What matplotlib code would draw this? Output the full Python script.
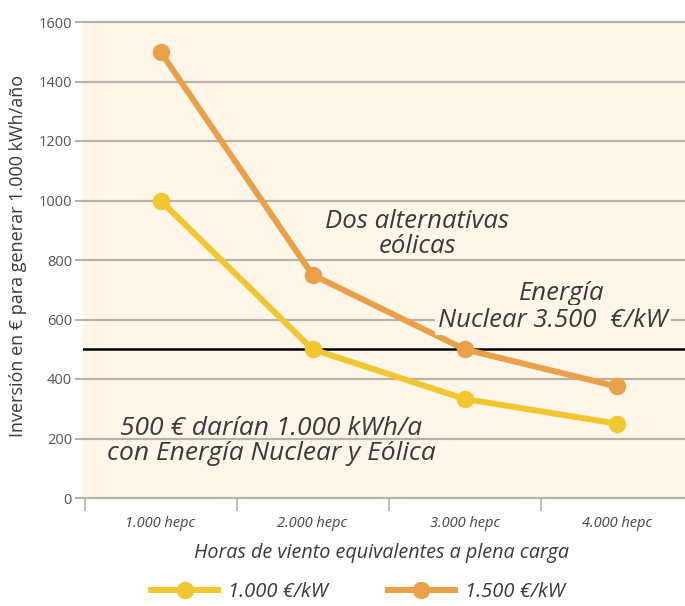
import matplotlib
matplotlib.use("Agg")
import matplotlib.pyplot as plt
from matplotlib.lines import Line2D

categories = ["1.000 hepc", "2.000 hepc", "3.000 hepc", "4.000 hepc"]
serie_1000 = [1000, 500, 333, 250]
serie_1500 = [1500, 750, 500, 375]
nuclear = 500
yticks = [0, 200, 400, 600, 800, 1000, 1200, 1400, 1600]

plt.rcParams['font.family'] = ['Open Sans', 'DejaVu Sans']

BG = '#FDF6E9'
GRID = '#B5B2AC'
YEL = '#F2C62E'
ORA = '#E9A048'
TXT = '#3a3a3a'

fig = plt.figure(figsize=(6.85, 6.06), dpi=100)
ax = fig.add_axes([83/685, 1 - 498/606, 1 - 83/685, (498 - 22)/606])
ax.set_facecolor(BG)

x = list(range(1, len(categories) + 1))
ax.set_xlim(0.49, 4.45)
ax.set_ylim(0, 1600)

for y in yticks:
    ax.axhline(y, color=GRID, lw=1.6, zorder=1, clip_on=False)

ax.axhline(nuclear, color='black', lw=1.8, zorder=2)

ax.plot(x, serie_1000, color=YEL, lw=4.3, marker='o', ms=11.5, zorder=4,
        solid_capstyle='round')
ax.plot(x, serie_1500, color=ORA, lw=4.3, marker='o', ms=11.5, zorder=4,
        solid_capstyle='round')

for s in ax.spines.values():
    s.set_visible(False)

ax.set_yticks(yticks)
ax.set_yticklabels([str(v) for v in yticks], fontsize=10.5, color='#555555')
ax.tick_params(axis='y', length=6, width=1.4, color=GRID, pad=2)

ax.set_xticks([0.5, 1.5, 2.5, 3.5])
ax.set_xticklabels([])
ax.tick_params(axis='x', length=9, width=1.2, color=GRID, direction='out')
for xi, lab in zip(x, categories):
    ax.text(xi, -60, lab, ha='center', va='top', fontsize=10.5, style='italic',
            color='#444444', clip_on=False)

fig.text(18/685, 1 - 256/606, 'Inversión en € para generar 1.000 kWh/año',
         rotation=90, ha='center', va='center', fontsize=13, color=TXT)
fig.text(382/685, 1 - 553/606, 'Horas de viento equivalentes a plena carga',
         ha='center', va='center', fontsize=14.2, style='italic', color=TXT)

ax.text(1.73, 192, '500 € darían 1.000 kWh/a\ncon Energía Nuclear y Eólica',
        ha='center', va='center', fontsize=19, style='italic', color=TXT,
        linespacing=1.0, zorder=5)
ax.text(2.69, 889, 'Dos alternativas\neólicas', ha='center', va='center',
        fontsize=18.5, style='italic', color=TXT, linespacing=1.0, zorder=5)
ax.text(3.64, 689, 'Energía', ha='center', va='center',
        fontsize=18.5, style='italic', color=TXT, zorder=5)
ax.text(2.826, 598, 'Nuclear 3.500  €/kW', ha='left', va='center',
        fontsize=18.5, style='italic', color=TXT, zorder=5, clip_on=False,
        bbox=dict(facecolor=BG, edgecolor='none', pad=2))

handles = [
    Line2D([], [], color=YEL, lw=4.3, marker='o', ms=11.5),
    Line2D([], [], color=ORA, lw=4.3, marker='o', ms=11.5),
]
fig.legend(handles, ['1.000 €/kW', '1.500 €/kW'], loc='center',
           bbox_to_anchor=(358/685, 1 - 592/606), ncol=2, frameon=False,
           prop={'style': 'italic', 'size': 14.5}, handlelength=3.3,
           handletextpad=0.5, columnspacing=3.0, labelcolor=TXT,
           borderpad=0.2)

fig.savefig('out.png', dpi=100, facecolor='white')
